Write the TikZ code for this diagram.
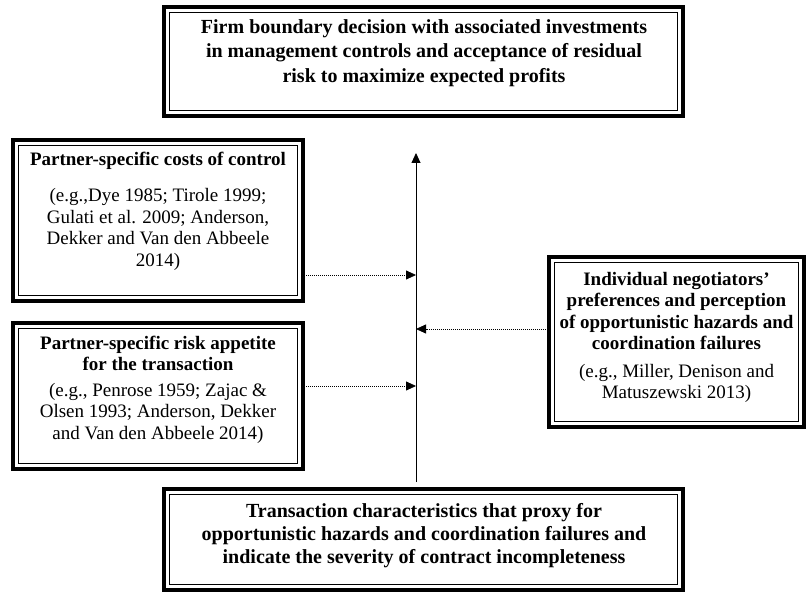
\documentclass[tikz,border=0pt]{standalone}
\usepackage{fontspec}
\setmainfont{Liberation Serif}
\usetikzlibrary{arrows.meta}
\tikzset{
  dbox/.style={draw, line width=4pt, outer sep=0pt, inner sep=0pt},
  inner/.style={line width=0.9pt},
  bigtext/.style={inner sep=0pt, align=center, anchor=north, font={\fontsize{20}{24.5}\selectfont\bfseries}},
  boxtext/.style={inner sep=0pt, align=center, anchor=north, font={\fontsize{19}{21.5}\selectfont}},
  spine/.style={line width=0.9pt, -{Triangle[length=10pt,width=9pt]}},
  dotarrow/.style={line width=0.8pt, dash pattern=on 1pt off 1pt, -{Triangle[length=10pt,width=9pt]}},
}
\begin{document}
\begin{tikzpicture}[x=1pt,y=-1pt]
\useasboundingbox (0,0) rectangle (808,593);
% boxes
\node[dbox, minimum width=519pt, minimum height=109pt] (top) at (423.5,61.5) {};
\node[dbox, minimum width=290pt, minimum height=161pt] (c1) at (158,220.5) {};
\node[dbox, minimum width=290pt, minimum height=146pt] (c2) at (158,396) {};
\node[dbox, minimum width=255pt, minimum height=170pt] (neg) at (676.5,342) {};
\node[dbox, minimum width=519pt, minimum height=101pt] (bot) at (423.5,539.5) {};
\foreach \n in {top,c1,c2,neg,bot}
  \draw[inner] ([xshift=5.5pt,yshift=-5.5pt]\n.north west) rectangle ([xshift=-5.5pt,yshift=5.5pt]\n.south east);
% texts
\node[bigtext] (topt) at (424,19)
  {Firm boundary decision with associated investments\\ in management controls and acceptance of residual\\ risk to maximize expected profits};
\node[boxtext] (c1t) at (158,151.5)
  {\textbf{Partner-specific costs of control}\\[15pt] (e.g.,Dye 1985; Tirole 1999;\\ Gulati et al. 2009; Anderson,\\ Dekker and Van den Abbeele\\ 2014)};
\node[boxtext] (c2t) at (158,335.5)
  {\textbf{Partner-specific risk appetite}\\ \textbf{for the transaction}\\[4pt] (e.g., Penrose 1959; Zajac \&\\ Olsen 1993; Anderson, Dekker\\ and Van den Abbeele 2014)};
\node[boxtext] (negt) at (676.5,272)
  {\textbf{Individual negotiators'}\\ \textbf{preferences and perception}\\ \textbf{of opportunistic hazards and}\\ \textbf{coordination failures}\\[6pt] (e.g., Miller, Denison and\\ Matuszewski 2013)};
\node[bigtext, font={\fontsize{20}{23}\selectfont\bfseries}] (bott) at (424,503)
  {Transaction characteristics that proxy for\\ opportunistic hazards and coordination failures and\\ indicate the severity of contract incompleteness};
% connectors
\coordinate (base) at (416,482);
\coordinate (tip) at (416,153);
\coordinate (a1) at (416,275);
\coordinate (a2) at (416,386);
\coordinate (a3) at (416,329);
\draw[spine] (base) -- (tip);
\draw[dotarrow] (a1 -| c1.east) ++(3pt,0) -- (a1);
\draw[dotarrow] (a2 -| c2.east) ++(3pt,0) -- (a2);
\draw[dotarrow] (a3 -| neg.west) ++(-3pt,0) -- (a3);
\end{tikzpicture}
\end{document}
